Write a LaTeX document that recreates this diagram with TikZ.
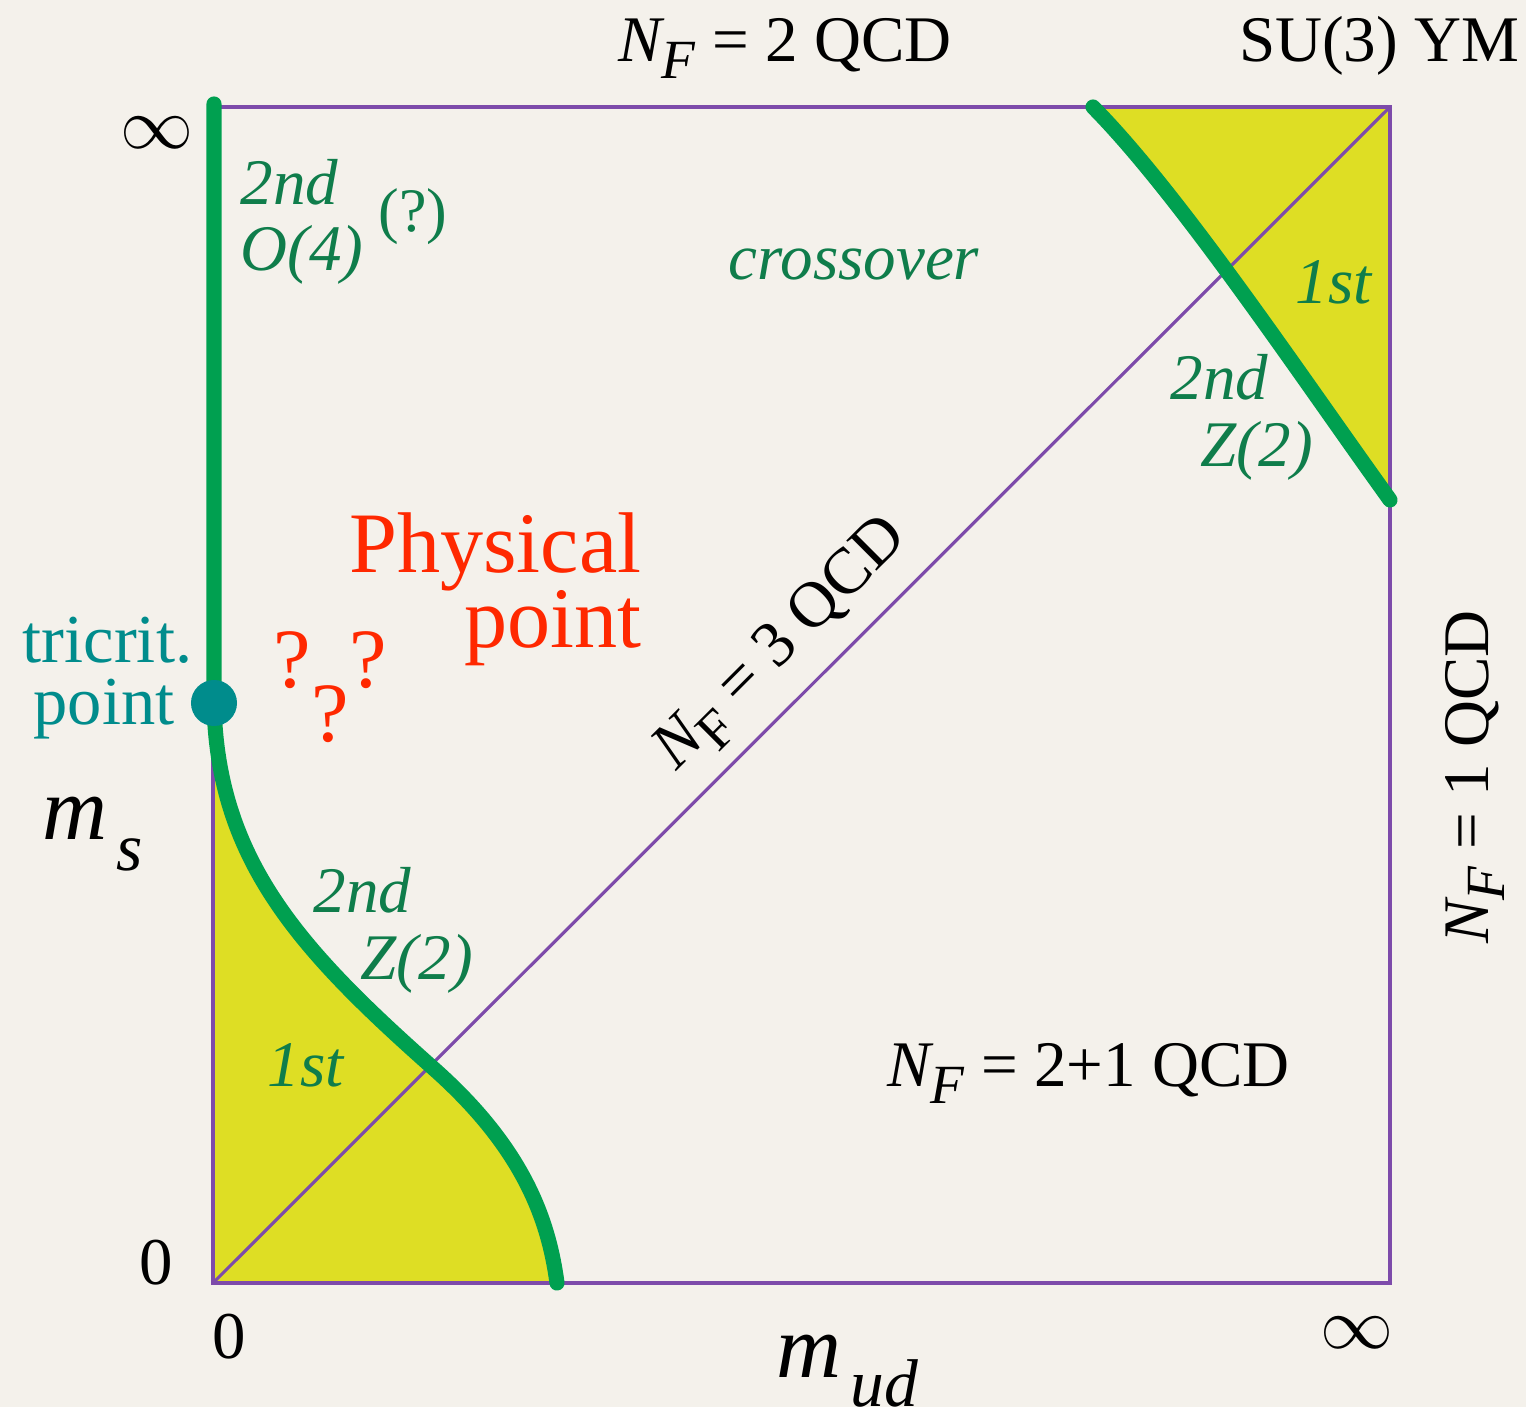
\documentclass[tikz,border=0pt]{standalone}
\usepackage{fontspec}
\setmainfont{Liberation Serif}
\usepackage{graphicx}
\usepackage{tikz}
\usetikzlibrary{positioning}
\definecolor{PaperWhite}{RGB}{244,241,235}
\definecolor{FramePurple}{RGB}{125,75,170}
\definecolor{LineGreen}{RGB}{0,160,80}
\definecolor{LabelGreen}{RGB}{15,125,75}
\definecolor{FirstYellow}{RGB}{222,222,36}
\definecolor{PhysRed}{RGB}{255,40,0}
\definecolor{TriTeal}{RGB}{0,140,140}
\newcommand{\NF}[1]{\textit{N}\kern-0.05em\raisebox{-0.55ex}{\scalebox{0.85}{#1}}}

\begin{document}
\begin{tikzpicture}[x=0.01cm, y=-0.01cm,
    frame/.style={draw=FramePurple, line width=1.1pt},
    critline/.style={draw=LineGreen, line width=4.3pt, line cap=round},
    firstorder/.style={fill=FirstYellow},
    tricrit/.style={circle, fill=TriTeal, minimum size=0.46cm, inner sep=0pt},
    axis/.style={inner sep=0pt, font=\fontsize{18.5}{18.5}\selectfont},
    tick/.style={inner sep=0pt, font=\fontsize{19}{19}\selectfont},
    mass/.style={inner sep=0pt, font=\fontsize{25.6}{25.6}\selectfont},
    phase/.style={inner sep=0pt, text=LabelGreen, font=\fontsize{18.5}{18.5}\selectfont\itshape},
    phaseup/.style={inner sep=0pt, text=LabelGreen, font=\fontsize{17.6}{17.6}\selectfont},
    physpt/.style={inner sep=0pt, text=PhysRed, font=\fontsize{24.5}{24.5}\selectfont},
    qmark/.style={inner sep=0pt, text=PhysRed, font=\fontsize{24}{24}\selectfont, anchor=base},
    tritext/.style={inner sep=0pt, text=TriTeal, font=\fontsize{19.5}{19.5}\selectfont},
]
    \useasboundingbox (0,0) rectangle (1526,1407);
    \fill[PaperWhite] (0,0) rectangle (1526,1407);

    % corners of the mass plane and ends of the critical lines
    \coordinate (O)  at (213,1283);
    \coordinate (TL) at (214,104);
    \coordinate (TR) at (1390,107);
    \coordinate (tc) at (214,703);
    \coordinate (zdiag) at (433,1068);
    \coordinate (zbot) at (557,1283);
    \coordinate (ztop) at (1093,107);
    \coordinate (zright) at (1390,500);

    % first order regions
    \fill[firstorder] (213,703) -- (O) -- (zbot) .. controls (548,1215) and (520,1145) .. (zdiag)
        .. controls (300,950) and (217,860) .. (tc) -- cycle;
    \fill[firstorder] (ztop) -- (TR) -- (zright) .. controls (1300,375) and (1180,195) .. (ztop) -- cycle;

    % plane and N_F = 3 diagonal
    \draw[frame] (O) rectangle (TR);
    \draw[frame, line width=0.9pt] (O) -- (TR)
        node[axis, sloped, pos=0.513, anchor=base, yshift=9.7pt] (nf3) {\NF{F} = 3 QCD};

    % critical lines
    \draw[critline] (TL) -- (tc) .. controls (217,860) and (300,950) .. (zdiag)
        .. controls (520,1145) and (548,1215) .. (zbot);
    \draw[critline] (ztop) .. controls (1180,195) and (1300,375) .. (zright);
    \node[tricrit] (tri) at (tc) {};

    % axes
    \node[axis, anchor=base west] (nf2) at (618,62) {\NF{\textit{F}} = 2 QCD};
    \node[axis, anchor=base east] (ym) at (1520,62) {SU(3) YM};
    \node[axis, anchor=base west] (nf21) at (887,1087) {\NF{\textit{F}} = 2+1 QCD};
    \node[axis, anchor=base, rotate=90] (nf1) at (1488,777) {\NF{\textit{F}} = 1 QCD};
    \node[tick, font=\fontsize{20.5}{20.5}\selectfont] (inf-y) at (157,133) {$\infty$};
    \node[tick] (zero-y) at (156,1263) {0};
    \node[tick] (zero-x) at (229,1337) {0};
    \node[tick, font=\fontsize{20.5}{20.5}\selectfont] (inf-x) at (1357,1333) {$\infty$};
    \node[mass, anchor=base west] (ms) at (42,840) {\textit{m}\kern0.1em\raisebox{-0.75ex}{\scalebox{0.75}{\textit{s}}}};
    \node[mass, anchor=base west] (mud) at (776,1378) {\textit{m}\kern0.1em\raisebox{-0.7ex}{\scalebox{0.75}{\textit{ud}}}};

    % phase labels
    \node[phase, anchor=base west] (o4a) at (240,205) {2nd};
    \node[phase, below=18.5pt of o4a.base west, anchor=base west] (o4b) {O(4)};
    \node[phaseup, anchor=base west] (o4q) at (378,232) {(?)};
    \node[phase, anchor=base west] (cross) at (728,280) {crossover};
    \node[phase, anchor=base west] (first-h) at (1295,304) {1st};
    \node[phase, anchor=base west] (z2h-a) at (1170,400) {2nd};
    \node[phase, anchor=base west] (z2h-b) at (1200,467) {Z(2)};
    \node[phase, anchor=base west] (z2l-a) at (313,913) {2nd};
    \node[phase, anchor=base west] (z2l-b) at (360,980) {Z(2)};
    \node[phase, anchor=base west] (first-l) at (267,1087) {1st};

    % physical point
    \node[physpt, anchor=base east] (phys) at (642,573) {Physical};
    \node[physpt, below=21.3pt of phys.base east, anchor=base east] (physb) {point};
    \node[qmark] (q1) at (292,688) {?};
    \node[qmark] (q2) at (368,688) {?};
    \node[qmark] (q3) at (330,742) {?};
    \node[tritext, anchor=base west] (tri-a) at (22,663) {tricrit.};
    \node[tritext, anchor=base west] (tri-b) at (33,725) {point};
\end{tikzpicture}
\end{document}
